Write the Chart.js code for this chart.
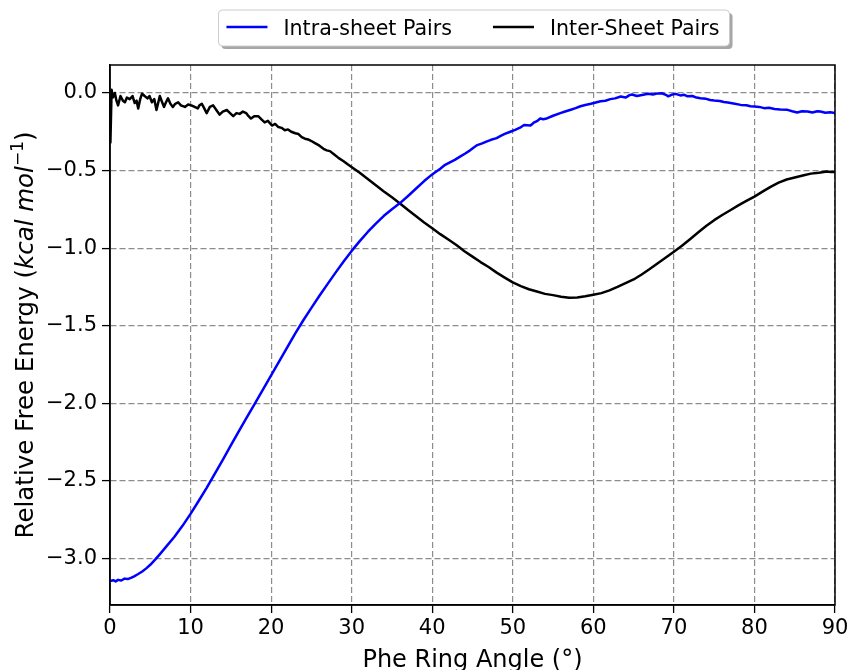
<!DOCTYPE html>
<html>
<head>
<meta charset="utf-8">
<script src="https://cdn.jsdelivr.net/npm/chart.js@4.4.1/dist/chart.umd.min.js"></script>
<style>
  html, body { margin: 0; padding: 0; background: #fff; }
  #wrap { width: 847px; height: 670px; }
</style>
</head>
<body>
<div id="wrap"><canvas id="freeEnergy" width="847" height="670"></canvas></div>
<script>
// Phe ring angle (deg) vs relative free energy (kcal/mol)

const intraAngle = [
  0, 0.4, 0.7, 1.0, 1.4, 1.8, 2.2, 2.6, 3.0, 3.5, 4.0, 4.5, 5.0, 5.6, 6.2, 7, 8, 9,
  10, 11, 12, 13, 14, 15, 16, 17, 18, 19, 20, 21, 22, 23, 24, 25, 26, 27, 28, 29,
  30, 31, 32, 33, 34, 35, 36, 37, 38, 39, 40, 40.2, 41.0, 41.6, 42.2, 42.8, 43.4,
  44.1, 44.7, 45.2, 45.6, 46.2, 46.8, 47.3, 48.0, 48.5, 49.0, 49.7, 50.3, 50.9,
  51.4, 52.2, 52.6, 53.0, 53.4, 53.8, 54.3, 55.0, 55.9, 56.5, 57.2, 57.8, 58.4,
  59.0, 59.7, 60.3, 60.9, 61.5, 62.1, 62.7, 63.4, 64.0, 64.5, 64.8, 65.4, 66.2,
  66.8, 67.4, 68.0, 68.5, 69.0, 69.3, 69.7, 70.2, 70.8, 71.3, 71.7, 72.3, 72.8,
  73.3, 74.0, 74.5, 75.0, 75.7, 76.2, 76.7, 77.4, 78.3, 79.0, 79.5, 80.0, 80.6,
  81.2, 81.8, 82.5, 83.2, 84.1, 84.7, 85.3, 85.9, 86.6, 87.2, 87.8, 88.2, 88.8,
  89.4, 90.0
];
const intraEnergy = [
  -3.145, -3.14, -3.148, -3.138, -3.142, -3.13, -3.133, -3.125, -3.115, -3.1, -3.084,
  -3.064, -3.041, -3.008, -2.972, -2.922, -2.86, -2.79,
  -2.713, -2.63, -2.545, -2.455, -2.365, -2.272, -2.18, -2.09, -2.0, -1.91, -1.82,
  -1.73, -1.64, -1.55, -1.465, -1.385, -1.307, -1.232, -1.158, -1.086,
  -1.018, -0.955, -0.896, -0.842, -0.792, -0.75, -0.71, -0.664, -0.616, -0.568, -0.525,
  -0.517, -0.488, -0.463, -0.447, -0.431, -0.412,
  -0.39, -0.37, -0.35, -0.336, -0.325, -0.312, -0.302, -0.291, -0.277, -0.264,
  -0.25, -0.238, -0.224,
  -0.207, -0.21, -0.192, -0.182, -0.165, -0.17, -0.163, -0.147, -0.13, -0.12,
  -0.108, -0.098, -0.086,
  -0.078, -0.07, -0.062, -0.054, -0.05, -0.04, -0.035, -0.023, -0.03, -0.014,
  -0.01, -0.02, -0.012,
  -0.005, -0.01, -0.003, -0.002, -0.012, -0.022, -0.012, -0.006, -0.016, -0.012,
  -0.022, -0.02, -0.03,
  -0.034, -0.038, -0.046, -0.049, -0.052, -0.058, -0.062, -0.068, -0.077, -0.079,
  -0.086, -0.087, -0.09,
  -0.098, -0.096, -0.104, -0.107, -0.109, -0.118, -0.126, -0.118, -0.12, -0.126,
  -0.118, -0.12, -0.128,
  -0.124, -0.13
];

const interAngle = [
  0.05, 0.2, 0.35, 0.6, 0.8, 1.0, 1.3, 1.6, 1.85, 2.1, 2.45, 2.8, 3.07, 3.3, 3.5,
  3.75, 3.98, 4.3, 4.65, 4.9, 5.2, 5.5, 5.77, 6.0, 6.18, 6.4, 6.7, 6.95, 7.2, 7.5,
  7.8, 8.1, 8.46, 8.8, 9.3, 9.7, 10.1, 10.5, 10.9, 11.1, 11.4, 11.7, 12.0, 12.4,
  12.8, 13.2, 13.6, 14.0, 14.5, 14.9, 15.3, 15.7, 16.1, 16.5, 16.9, 17.2, 17.5,
  17.9, 18.4, 18.8, 19.2, 19.6, 20.1, 20.5, 20.9, 21.3, 21.7, 22.1, 22.5, 23.0,
  23.4, 23.8, 24.2, 24.6, 25.0, 25.5, 26.0, 26.5, 26.9, 27.3, 27.8, 28.4, 29.0,
  29.5, 30.2, 31, 32, 33, 34, 35, 36, 37, 38, 39, 40, 41, 42, 43, 44, 45, 46, 47,
  48, 49, 50, 51, 52, 53, 54, 55, 56, 57, 58, 59, 60, 61, 62, 63, 64, 65, 66, 67,
  68, 69, 70, 71, 72, 73, 74, 75, 76, 77, 78, 79, 80, 81, 82, 83, 84, 85, 86, 87,
  88, 89, 89.5, 90
];
const interEnergy = [
  -0.32, 0.02, -0.03, 0.0, -0.05, -0.08, -0.02, -0.05, -0.06, -0.03, -0.04, -0.02,
  -0.065, -0.05, -0.1, -0.04, -0.005, -0.02, -0.035, -0.02, -0.06, -0.04, -0.11,
  -0.06, -0.02, -0.05, -0.09, -0.06, -0.035, -0.07, -0.09, -0.07, -0.06, -0.08,
  -0.09, -0.075, -0.08, -0.09, -0.1, -0.08, -0.07, -0.1, -0.13, -0.09, -0.08,
  -0.11, -0.14, -0.12, -0.11, -0.13, -0.15, -0.13, -0.135, -0.12, -0.13, -0.15,
  -0.165, -0.15, -0.15, -0.17, -0.19, -0.18, -0.21, -0.2, -0.22, -0.225, -0.24,
  -0.235, -0.25, -0.26, -0.265, -0.285, -0.295, -0.3, -0.31, -0.325, -0.34, -0.36,
  -0.37, -0.375, -0.395, -0.42, -0.44, -0.46, -0.485, -0.515, -0.555, -0.595, -0.635,
  -0.673, -0.712, -0.755, -0.795, -0.835, -0.872, -0.91, -0.945, -0.98, -1.02, -1.055,
  -1.09, -1.122, -1.158, -1.19, -1.221, -1.245, -1.265, -1.28, -1.295, -1.303,
  -1.313, -1.32, -1.318, -1.31, -1.3, -1.29, -1.272, -1.25, -1.226, -1.202,
  -1.17, -1.135, -1.098, -1.06, -1.023, -0.985, -0.943, -0.9, -0.858, -0.82, -0.787,
  -0.756, -0.725, -0.696, -0.668, -0.636, -0.605, -0.578, -0.558, -0.545, -0.532,
  -0.52, -0.515, -0.507, -0.51, -0.51
];

const seriesNames = ['Intra-sheet Pairs', 'Inter-Sheet Pairs'];
const seriesColors = ['#0000ff', '#000000'];

const xTicks = [0, 10, 20, 30, 40, 50, 60, 70, 80, 90];
const yTicks = [0.0, -0.5, -1.0, -1.5, -2.0, -2.5, -3.0];

const FONT = "'DejaVu Sans', 'Liberation Sans', sans-serif";

function toPoints(xs, ys) {
  return xs.map((x, i) => ({ x: x, y: ys[i] }));
}

function fmtTick(v, digits) {
  let s = Math.abs(v) < 1e-9 ? (0).toFixed(digits) : v.toFixed(digits);
  return s.replace('-', '\u2212');
}

// frame, legend and axis titles drawn by hand (mixed italic/superscript in y title)
const decorations = {
  id: 'decorations',
  afterDatasetsDraw(chart) {
    const ctx = chart.ctx;
    const a = chart.chartArea;
    ctx.save();
    ctx.strokeStyle = '#000';
    ctx.lineWidth = 1.5;
    ctx.strokeRect(a.left, a.top, a.right - a.left, a.bottom - a.top);
    ctx.restore();
  },
  afterDraw(chart) {
    const ctx = chart.ctx;
    const a = chart.chartArea;
    const cx = (a.left + a.right) / 2;

    // x title
    ctx.save();
    ctx.fillStyle = '#000';
    ctx.font = '24px ' + FONT;
    ctx.textAlign = 'center';
    ctx.textBaseline = 'alphabetic';
    ctx.fillText('Phe Ring Angle (\u00b0)', cx, 666.5);
    ctx.restore();

    // y title
    const parts = [
      { t: 'Relative Free Energy (', f: '24.5px ' + FONT, dy: 0 },
      { t: 'kcal mol', f: 'italic 24.5px ' + FONT, dy: 0 },
      { t: '\u22121', f: '17px ' + FONT, dy: -10 },
      { t: ')', f: '24.5px ' + FONT, dy: 0 }
    ];
    ctx.save();
    let total = 0;
    parts.forEach(p => { ctx.font = p.f; p.w = ctx.measureText(p.t).width; total += p.w; });
    ctx.translate(33, (a.top + a.bottom) / 2);
    ctx.rotate(-Math.PI / 2);
    ctx.fillStyle = '#000';
    ctx.textBaseline = 'alphabetic';
    ctx.textAlign = 'left';
    let x = -total / 2;
    parts.forEach(p => { ctx.font = p.f; ctx.fillText(p.t, x, p.dy); x += p.w; });
    ctx.restore();

    // legend
    const ds = chart.data.datasets;
    ctx.save();
    ctx.font = '20.6px ' + FONT;
    const handle = 41, gap = 16, colGap = 41, padL = 8, padR = 10;
    const widths = ds.map(d => ctx.measureText(d.label).width);
    const boxW = padL + ds.length * (handle + gap) + widths.reduce((s, w) => s + w, 0) + colGap * (ds.length - 1) + padR;
    const boxL = cx - boxW / 2 + 1.5, boxT = 10, boxH = 36;
    const rr = (x0, y0, w, h, r) => {
      ctx.beginPath();
      ctx.moveTo(x0 + r, y0);
      ctx.arcTo(x0 + w, y0, x0 + w, y0 + h, r);
      ctx.arcTo(x0 + w, y0 + h, x0, y0 + h, r);
      ctx.arcTo(x0, y0 + h, x0, y0, r);
      ctx.arcTo(x0, y0, x0 + w, y0, r);
      ctx.closePath();
    };
    rr(boxL + 3, boxT + 3, boxW, boxH, 4);
    ctx.fillStyle = '#a6a6a6';
    ctx.fill();
    rr(boxL, boxT, boxW, boxH, 4);
    ctx.fillStyle = '#fff';
    ctx.fill();
    ctx.strokeStyle = '#cccccc';
    ctx.lineWidth = 1;
    ctx.stroke();
    let lx = boxL + padL;
    const ly = 27;
    ds.forEach((d, i) => {
      ctx.strokeStyle = d.borderColor;
      ctx.lineWidth = 2.5;
      ctx.beginPath();
      ctx.moveTo(lx, ly);
      ctx.lineTo(lx + handle, ly);
      ctx.stroke();
      ctx.fillStyle = '#000';
      ctx.textBaseline = 'alphabetic';
      ctx.fillText(d.label, lx + handle + gap, 34.5);
      lx += handle + gap + widths[i] + colGap;
    });
    ctx.restore();
  }
};

const gridOpts = {
  color: '#8c8c8c',
  lineWidth: 1.2,
  borderDash: [6, 3],
  tickColor: '#000',
  tickLength: 8,
  tickWidth: 1.3,
  tickBorderDash: [20, 0]
};

const ctx = document.getElementById('freeEnergy').getContext('2d');

const energyChart = new Chart(ctx, {
  type: 'line',
  data: {
    datasets: [
      {
        label: seriesNames[0],
        data: toPoints(intraAngle, intraEnergy),
        borderColor: seriesColors[0],
        backgroundColor: seriesColors[0]
      },
      {
        label: seriesNames[1],
        data: toPoints(interAngle, interEnergy),
        borderColor: seriesColors[1],
        backgroundColor: seriesColors[1]
      }
    ]
  },
  options: {
    responsive: false,
    animation: false,
    layout: { padding: { top: 65, right: 12, left: 0, bottom: 0 } },
    elements: {
      point: { radius: 0 },
      line: { borderWidth: 2.5, tension: 0, borderJoinStyle: 'round', borderCapStyle: 'round' }
    },
    plugins: {
      legend: { display: false },
      tooltip: { enabled: false }
    },
    scales: {
      x: {
        type: 'linear',
        min: 0,
        max: 90,
        afterFit: s => { s.height = 65; s.paddingLeft = 0; s.paddingRight = 0; },
        afterBuildTicks: s => { s.ticks = xTicks.map(v => ({ value: v })); },
        grid: gridOpts,
        border: { display: true, color: '#000', width: 1.5, dash: [6, 3] },
        ticks: {
          color: '#000',
          font: { family: FONT, size: 21 },
          padding: 3,
          maxRotation: 0,
          autoSkip: false,
          callback: v => fmtTick(v, 0)
        }
      },
      y: {
        type: 'linear',
        min: -3.3,
        max: 0.18,
        afterFit: s => { s.width = 110; s.paddingTop = 0; s.paddingBottom = 0; },
        afterBuildTicks: s => { s.ticks = yTicks.map(v => ({ value: v })); },
        grid: gridOpts,
        border: { display: true, color: '#000', width: 1.5, dash: [6, 3] },
        ticks: {
          color: '#000',
          font: { family: FONT, size: 21 },
          padding: 5,
          autoSkip: false,
          callback: v => fmtTick(v, 1)
        }
      }
    }
  },
  plugins: [decorations]
});
</script>
</body>
</html>
